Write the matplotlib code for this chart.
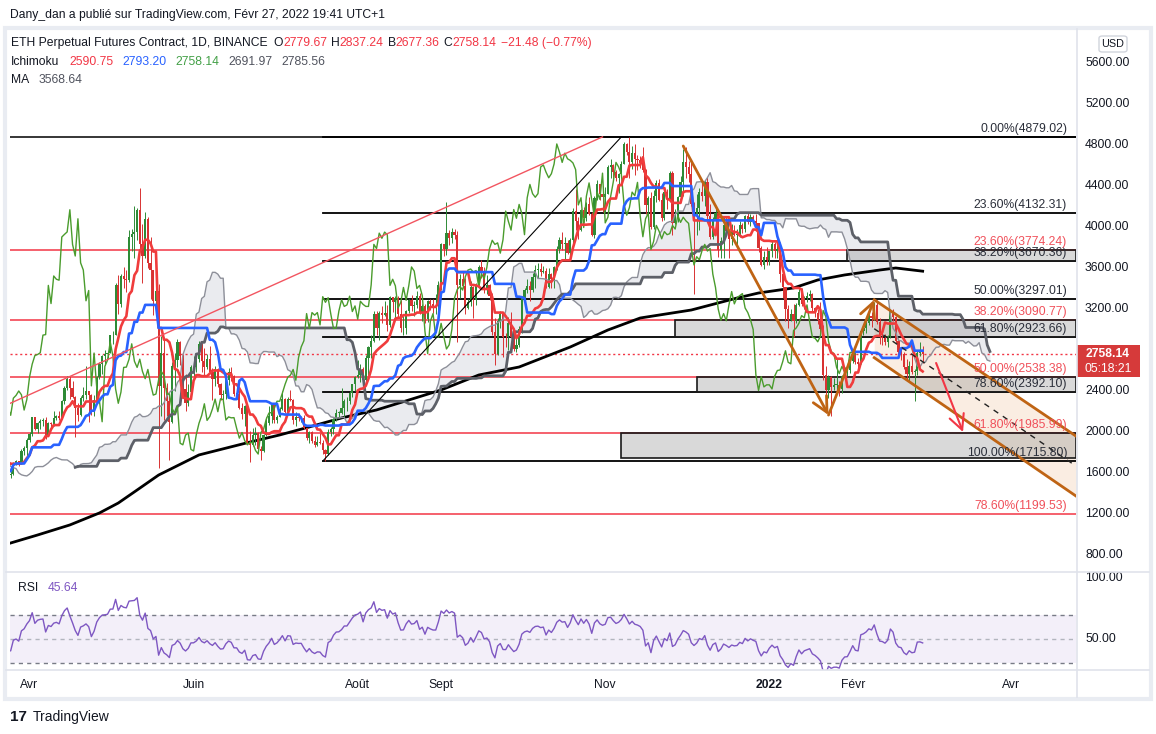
import numpy as np
import pandas as pd
import matplotlib
matplotlib.use("Agg")
import matplotlib.pyplot as plt
from matplotlib.patches import Rectangle, FancyBboxPatch
from matplotlib.lines import Line2D

plt.rcParams['font.family'] = ['Liberation Sans', 'DejaVu Sans']

# ---- daily candles ETH perp (Binance) ----
first_day = "2021-02-01"
first_open = 1314.0
closes = [
    1369,1512,1665,1593,1720,1677,1613,1750,1768,1744,1784,1843,1813,1800,1779,1781,1849,1939,1960,1919,1935,1780,1570,1626,1475,1446,1459,1417,
    1564,1492,1575,1541,1533,1655,1723,1834,1868,1795,1825,1772,1924,1854,1792,1806,1823,1780,1810,1806,1784,1681,1669,1583,1587,1700,1714,1689,1817,1846,1919,
    1977,2142,2027,2092,2111,2117,1970,2087,2074,2137,2153,2137,2300,2432,2515,2427,2342,2237,2163,2330,2357,2400,2363,2214,2316,2534,2662,2746,2756,2773,
    2945,2950,3430,3253,3522,3490,3481,3902,3928,3952,4168,3830,3717,4080,3650,3580,3280,3380,2450,2770,2430,2300,2100,2640,2700,2880,2740,2420,2280,2390,2630,
    2633,2710,2860,2690,2630,2710,2590,2520,2610,2470,2360,2370,2510,2590,2550,2370,2370,2230,2180,2250,1890,1875,1970,1990,1830,1815,1975,2085,2160,2275,
    2113,2150,2225,2321,2198,2324,2316,2117,2147,2138,2140,2035,1940,1995,1915,1875,1900,1895,1820,1785,1995,2025,2125,2185,2190,2230,2300,2300,2380,2465,2535,
    2555,2610,2505,2725,2830,2890,3155,3010,3165,3140,3165,3045,3320,3265,3310,3150,3010,3015,3180,3290,3225,3240,3325,3175,3230,3100,3275,3245,3225,3225,3435,
    3830,3790,3940,3890,3950,3925,3430,3490,3425,3210,3265,3410,3285,3430,3610,3570,3400,3430,3330,2980,2765,3080,3155,2930,2925,3060,2930,2810,2850,3000,
    3310,3390,3420,3385,3515,3580,3590,3560,3575,3415,3545,3495,3605,3790,3870,3830,3845,3745,3875,4155,4055,3970,4170,4085,4220,4130,3925,4285,4415,4325,4290,
    4325,4585,4605,4535,4480,4520,4615,4810,4730,4630,4720,4665,4650,4625,4560,4215,4285,3995,4300,4430,4265,4090,4340,4270,4525,4040,4095,4295,4440,4630,
    4585,4515,4220,4115,4190,4340,4305,4435,4110,3905,4080,4135,3780,3860,4015,3960,3885,3955,3925,3935,4015,3980,4110,4045,4095,4060,4035,3795,3630,3710,3680,
    3770,3830,3765,3790,3540,3410,3200,3090,3155,3085,3240,3370,3250,3310,3330,3350,3210,3165,3095,3000,2560,2405,2540,2440,2460,2460,2420,2545,2600,2605,2688,
    2792,2680,2665,2990,3015,3060,3135,3115,3240,3075,2925,2915,2880,2935,3185,3125,2885,2785,2765,2630,2570,2640,2585,2595,2775,2779.67,2758.14,
]
highs = [
    1380,1540,1675,1695,1738,1755,1700,1780,1810,1830,1800,1870,1845,1830,1810,1825,1865,1950,1975,2040,1990,1950,1780,1710,1680,1535,1530,1470,
    1570,1575,1650,1620,1545,1665,1735,1840,1880,1875,1840,1835,1945,1930,1880,1820,1830,1830,1820,1830,1810,1810,1720,1730,1625,1710,1730,1720,1835,1865,1940,
    2000,2150,2145,2100,2130,2135,2145,2100,2100,2200,2170,2200,2315,2450,2545,2550,2500,2350,2280,2350,2435,2645,2400,2370,2360,2550,2680,2755,2800,2790,
    2950,2985,3450,3530,3540,3610,3580,3970,3980,4200,4190,4380,4030,4150,4100,3900,3580,3560,3440,2940,2930,2480,2380,2680,2770,2910,2890,2760,2570,2465,2650,
    2740,2750,2890,2870,2820,2760,2840,2620,2640,2620,2480,2410,2520,2620,2630,2560,2440,2410,2280,2260,2250,2010,2040,2050,2000,1860,1985,2150,2250,2285,
    2285,2165,2240,2400,2330,2345,2410,2320,2195,2190,2160,2170,2040,2010,2010,1960,1960,1990,1920,1835,2030,2045,2135,2220,2200,2430,2320,2345,2400,2470,2550,
    2700,2665,2630,2750,2840,2950,3180,3185,3180,3230,3275,3240,3330,3320,3330,3330,3290,3130,3190,3300,3340,3280,3380,3360,3250,3250,3290,3300,3300,3350,3470,
    3840,3830,4240,3970,3990,3980,3960,3540,3560,3500,3300,3470,3420,3450,3630,3680,3610,3530,3440,3360,3110,3110,3180,3160,2970,3120,3170,2960,2920,3030,
    3330,3400,3490,3470,3550,3630,3650,3650,3620,3600,3600,3550,3620,3810,3900,3950,3900,3870,3890,4190,4370,4100,4180,4195,4240,4290,4150,4300,4460,4420,4400,
    4390,4600,4665,4610,4560,4530,4640,4830,4820,4879,4790,4810,4700,4690,4780,4570,4300,4345,4360,4460,4470,4330,4380,4370,4550,4550,4180,4300,4500,4760,
    4778,4640,4650,4240,4320,4385,4450,4460,4490,4225,4095,4200,4135,3905,4100,4095,3950,4030,4020,3980,4060,4040,4120,4140,4130,4120,4130,4040,3815,3770,3800,
    3770,3860,3850,3880,3850,3540,3411.8,3240,3200,3250,3260,3395,3405,3325,3365,3385,3355,3220,3200,3270,3040,2640,2560,2550,2530,2720,2500,2560,2630,2650,2715,
    2810,2800,2720,3000,3050,3080,3190,3170,3270,3285.9,3115,2990,2960,2950,3200,3195,3135,2920,2810,2780,2710,2690,2750,2610,2790,2881,2837.24,
]
lows = [
    1270,1360,1500,1540,1590,1640,1520,1580,1700,1690,1720,1760,1770,1770,1680,1730,1760,1840,1895,1880,1900,1550,1375,1510,1465,1400,1430,1290,
    1410,1460,1480,1500,1440,1520,1630,1700,1810,1760,1755,1730,1750,1850,1730,1750,1755,1760,1760,1800,1740,1670,1650,1580,1550,1585,1680,1670,1685,1780,1770,
    1900,1960,2015,1990,2030,2060,1935,1965,2050,2060,2115,2115,2130,2275,2410,2320,2330,1950,2110,2160,2300,2320,2100,2170,2160,2300,2520,2570,2650,2710,
    2770,2860,2945,3150,3220,3400,3370,3465,3770,3700,3870,3790,3450,3700,3600,3300,3140,3230,1650,2160,2115,2160,1730,2090,2400,2630,2650,2340,2200,2250,2320,
    2520,2590,2680,2590,2550,2610,2580,2310,2450,2440,2310,2290,2320,2460,2500,2350,2320,2220,2130,2060,1880,1710,1860,1875,1810,1730,1800,1960,2070,2090,
    2090,2090,2145,2210,2185,2190,2300,2080,2055,2110,2100,2030,1925,1890,1890,1855,1860,1880,1790,1715.8,1780,1960,1985,2110,2140,2180,2150,2200,2270,2340,2400,
    2530,2490,2450,2500,2560,2720,2880,2950,2900,3060,3130,2990,3020,3170,3100,3120,2980,2950,2960,3160,3180,3130,3210,3150,3080,3060,3070,3190,3160,3150,3150,
    3390,3720,3730,3820,3840,3880,2880,3310,3400,3150,3200,3230,3110,3240,3410,3500,3360,3350,3285,2950,2650,2750,3010,2730,2830,2800,2920,2790,2780,2830,
    2970,3270,3360,3280,3370,3400,3500,3520,3550,3400,3400,3400,3400,3580,3750,3780,3675,3740,3680,3840,3970,3880,3960,4050,4060,4120,3910,3890,4260,4260,4150,
    4150,4320,4475,4450,4450,4330,4500,4610,4700,4480,4570,4510,4560,4580,4540,4130,4080,3980,3980,4240,4250,4060,4065,4180,4250,3920,4030,4050,4290,4300,
    4480,4440,4200,3350,3920,3970,4250,4205,4080,3880,3880,4045,3710,3700,3700,3950,3700,3820,3910,3810,3900,3940,3950,4030,4010,4040,3985,3760,3620,3590,3630,
    3630,3710,3700,3700,3460,3310,3080,3010,3080,2930,3060,3230,3230,3200,3270,3280,3180,3120,3050,2980,2510,2310,2330,2159.3,2410,2380,2350,2380,2530,2550,2580,
    2670,2660,2590,2660,2950,2970,3040,3020,3090,3050,2860,2850,2850,2830,2920,3080,2870,2730,2700,2610,2520,2500,2570,2300.5,2560,2740,2677.36,
]

# MA 200
ma_dates = ["2021-03-25", "2021-04-04", "2021-04-16", "2021-04-27", "2021-05-04", "2021-05-11",
            "2021-05-19", "2021-06-03", "2021-06-22", "2021-07-03", "2021-07-14", "2021-07-26",
            "2021-08-08", "2021-08-20", "2021-09-01", "2021-09-15", "2021-09-30", "2021-10-19",
            "2021-11-02", "2021-11-14", "2021-12-03", "2021-12-20", "2021-12-28", "2022-01-10",
            "2022-01-19", "2022-01-29", "2022-02-11", "2022-02-17", "2022-02-27"]
ma_vals = [917, 995, 1093, 1210, 1307, 1434, 1580, 1776, 1902, 1971, 2049, 2137, 2215, 2312,
           2410, 2556, 2634, 2829, 2995, 3112, 3190, 3307, 3356, 3405, 3483, 3532, 3580, 3600, 3568.64]

# fibonacci retracements
fib_black_pcts = ["0.00%", "23.60%", "38.20%", "50.00%", "61.80%", "78.60%", "100.00%"]
fib_black_prices = [4879.02, 4132.31, 3670.36, 3297.01, 2923.66, 2392.10, 1715.80]
fib_black_start = "2021-07-19"
fib_red_pcts = ["23.60%", "38.20%", "50.00%", "61.80%", "78.60%"]
fib_red_prices = [3774.24, 3090.77, 2538.38, 1985.99, 1199.53]

# grey zones
zone_starts = ["2022-01-30", "2021-11-27", "2021-12-05", "2021-11-07"]
zone_lows = [3670.36, 2923.66, 2392.10, 1745]
zone_highs = [3774.24, 3090.77, 2538.38, 1985.99]

# drawings
red_trend = [("2021-03-24", 2270), ("2021-10-31", 4879.02)]
black_trend = [("2021-07-19", 1715.80), ("2021-11-07", 4879.02)]
arrow_down = [("2021-11-30", 4790), ("2022-01-23", 2165)]
arrow_up = [("2022-01-23", 2165), ("2022-02-09", 3290)]
chan_upper = [("2022-02-09", 3290), ("2022-04-25", 1960)]
chan_lower = [("2022-02-09", 2725), ("2022-04-25", 1375)]
red_arrow = [("2022-03-04", 2673), ("2022-03-14", 2000)]

month_labels = ["Avr", "Juin", "Août", "Sept", "Nov", "2022", "Févr", "Avr"]
month_dates = ["2021-04-01", "2021-06-01", "2021-08-01", "2021-09-01", "2021-11-01",
               "2022-01-01", "2022-02-01", "2022-04-01"]
# 2800 sits under the last-price tag
price_ticks = [800, 1200, 1600, 2000, 2400, 3200, 3600, 4000, 4400, 4800, 5200, 5600]
last_price = 2758.14

TXT = '#131722'
GREEN = '#2e8b36'
RED = '#d83232'

base = pd.Timestamp("2021-04-01")
def day(d):
    return (pd.Timestamp(d) - base).days

dates = pd.date_range(first_day, periods=len(closes), freq="D")
x = np.array((dates - base).days, dtype=float)
c = np.array(closes, float)
h = np.array(highs, float)
l = np.array(lows, float)
o = np.r_[first_open, c[:-1]]

def donchian(n):
    hh = pd.Series(h).rolling(n).max()
    ll = pd.Series(l).rolling(n).min()
    return ((hh + ll) / 2).values

tenkan = donchian(9)
kijun = donchian(26)
span_a = (tenkan + kijun) / 2
span_b = donchian(52)
shift = 25

delta = np.diff(c, prepend=c[0])
gain = pd.Series(np.where(delta > 0, delta, 0.0)).ewm(alpha=1/14, adjust=False).mean()
loss = pd.Series(np.where(delta < 0, -delta, 0.0)).ewm(alpha=1/14, adjust=False).mean()
rsi = (100 - 100 / (1 + gain / loss)).values

W, H = 1156, 734
fig = plt.figure(figsize=(W / 100, H / 100), dpi=100)
fig.patch.set_facecolor('white')
def fx(px): return px / W
def fy(py): return 1 - py / H

ax = fig.add_axes([fx(10), fy(572), fx(1076) - fx(10), fy(31) - fy(572)])
rax = fig.add_axes([fx(10), fy(670), fx(1076) - fx(10), fy(572) - fy(670)])
for a in (ax, rax):
    a.axis('off')
    a.set_xlim(-7.25, 389)
ax.set_ylim(634, 5912)
rax.set_ylim(24.6, 104.9)

# cloud
xl = x + shift
ok = ~np.isnan(span_b)
ax.fill_between(xl[ok], span_a[ok], span_b[ok], color='#d1d4dc', alpha=0.45, lw=0, zorder=1)
ax.plot(xl, span_a, color='#8d8f99', lw=1, zorder=5)
ax.plot(xl, span_b, color='#5d6068', lw=2, zorder=5)

# channel fill
cu = [(day(d), p) for d, p in chan_upper]
cl = [(day(d), p) for d, p in chan_lower]
cx = np.array([cu[0][0], cu[1][0]], float)
ax.fill_between(cx, [cl[0][1], cl[1][1]], [cu[0][1], cu[1][1]], color='#f6dcc6', alpha=0.5, lw=0, zorder=1.2)

# fib lines
xr = 389
ax.plot([-7.25, xr], [fib_black_prices[0]] * 2, color='black', lw=1.1, zorder=2)
for pct, p in zip(fib_black_pcts, fib_black_prices):
    ax.plot([day(fib_black_start), xr], [p, p], color='black', lw=1.3, zorder=2)
    ax.text(385.7, p + 22, f"{pct}({p:.2f})", ha='right', va='bottom', color='#2a2e39',
            fontsize=8.7, zorder=7)
for pct, p in zip(fib_red_pcts, fib_red_prices):
    ax.plot([-7.25, xr], [p, p], color='#f23645', lw=1.1, zorder=2)
    ax.text(385.7, p + 22, f"{pct}({p:.2f})", ha='right', va='bottom', color='#f0505a',
            fontsize=8.7, zorder=7)

# zones
for s, lo, hi in zip(zone_starts, zone_lows, zone_highs):
    ax.add_patch(Rectangle((day(s), lo), xr - day(s), hi - lo, facecolor=(0.55, 0.55, 0.55, 0.33),
                           edgecolor='#1a1a1a', lw=1.2, zorder=2.5))

# last price dotted
ax.plot([-7.25, xr], [last_price] * 2, color='#f23645', lw=1, ls=(0, (1.5, 2)), zorder=3)

# MA
ax.plot([day(d) for d in ma_dates], ma_vals, color='black', lw=2, zorder=3)

# candles
up = c >= o
bl = np.minimum(o, c)
bh = np.maximum(o, c)
cols = np.where(up, GREEN, RED)
ax.vlines(x, np.minimum(l, bl), np.maximum(h, bh), colors=cols, lw=0.7, zorder=4)
ax.bar(x, np.maximum(bh - bl, 6), bottom=bl, width=0.8, color=cols, lw=0, zorder=4)

# ichimoku lines
ax.plot(x - shift, c, color='#4a9c2d', lw=1, zorder=5)
ax.plot(x, tenkan, color='#f03c3c', lw=1.9, zorder=5)
ax.plot(x, kijun, color='#2962ff', lw=1.9, zorder=5)

# drawings
def seg(pts, **kw):
    ax.plot([day(pts[0][0]), day(pts[1][0])], [pts[0][1], pts[1][1]], **kw)
seg(red_trend, color='#f25560', lw=1, zorder=6)
seg(black_trend, color='black', lw=0.8, zorder=6)
seg(chan_upper, color='#bf6414', lw=2, zorder=6)
seg(chan_lower, color='#bf6414', lw=2, zorder=6)
ax.plot(cx, [(cu[0][1] + cl[0][1]) / 2, (cu[1][1] + cl[1][1]) / 2], color='#222', lw=1,
        ls=(0, (4, 4)), zorder=6)
def arrow(pts, color, lw):
    ax.annotate('', xy=(day(pts[1][0]), pts[1][1]), xytext=(day(pts[0][0]), pts[0][1]),
                arrowprops=dict(arrowstyle='->,head_length=0.9,head_width=0.45', color=color,
                                lw=lw, shrinkA=0, shrinkB=0, mutation_scale=12), zorder=6)
arrow(arrow_down, '#bf6414', 2)
arrow(arrow_up, '#bf6414', 2)
arrow(red_arrow, '#f23645', 1.5)

# price axis labels
for p in price_ticks:
    ax.text(1 + 9 / 1066, p, f"{p:.2f}", transform=ax.get_yaxis_transform(), ha='left',
            va='center', fontsize=8.7, color=TXT, clip_on=False)

# RSI pane
rax.fill_between([-7.25, 389], 30, 70, color='#7e57c2', alpha=0.09, lw=0)
rax.plot([-7.25, 389], [70, 70], color='#787b86', lw=1, ls=(0, (3, 3)))
rax.plot([-7.25, 389], [30, 30], color='#787b86', lw=1, ls=(0, (3, 3)))
rax.plot([-7.25, 389], [50, 50], color='#b2b5be', lw=1, ls=(0, (3, 3)))
rax.plot(x, rsi, color='#7e57c2', lw=1)
for v in (100, 50):
    rax.text(1 + 9 / 1066, v, f"{v:.2f}", transform=rax.get_yaxis_transform(), ha='left',
             va='center', fontsize=8.7, color=TXT, clip_on=False)
for lab, d in zip(month_labels, month_dates):
    rax.text(day(d), -0.153, lab, transform=rax.get_xaxis_transform(), ha='center', va='center',
             fontsize=8.7, color=TXT, fontweight='bold' if lab == '2022' else 'normal', clip_on=False)

# frame and separators
fig.add_artist(Rectangle((fx(5), fy(699)), fx(1146), (699 - 28) / H, transform=fig.transFigure,
                         fill=False, edgecolor='#e9ecf2', lw=3))
for yy in (572, 670):
    fig.add_artist(Line2D([fx(6), fx(1149)], [fy(yy), fy(yy)], color='#e0e3eb', lw=1.2))
fig.add_artist(Line2D([fx(1076.5), fx(1076.5)], [fy(29), fy(697)], color='#e0e3eb', lw=1.2))

# last price tag
fig.add_artist(Rectangle((fx(1077), fy(377)), fx(63), 32 / H, transform=fig.transFigure,
                         facecolor='#d63a3a', edgecolor='none'))
fig.text(fx(1108), fy(354), "2758.14", color='white', fontsize=8.7, fontweight='bold',
         ha='center', va='center')
fig.text(fx(1108), fy(369), "05:18:21", color='white', fontsize=8.7, ha='center', va='center')

# USD button
fig.add_artist(FancyBboxPatch((fx(1099), fy(52)), fx(28), 16 / H, transform=fig.transFigure,
                              boxstyle='round,pad=0,rounding_size=0.003', facecolor='white',
                              edgecolor='#d1d4dc', lw=1))
fig.text(fx(1113), fy(44), "USD", fontsize=7.8, color=TXT, ha='center', va='center')

# header and legend
renderer = fig.canvas.get_renderer()
def seq(x0, y0, pieces, size=8.7):
    xp = x0
    for s, col, gap in pieces:
        t = fig.text(fx(xp), fy(y0), s, color=col, fontsize=size, ha='left', va='center')
        xp += t.get_window_extent(renderer).width + gap

fig.text(fx(10), fy(15), "Dany_dan a publié sur TradingView.com, Févr 27, 2022 19:41 UTC+1",
         fontsize=8.7, color=TXT, ha='left', va='center')
R = '#f23645'
seq(11, 43, [("ETH Perpetual Futures Contract, 1D, BINANCE", TXT, 6),
             ("O", TXT, 0), ("2779.67", R, 4), ("H", TXT, 0), ("2837.24", R, 4),
             ("B", TXT, 0), ("2677.36", R, 4), ("C", TXT, 0), ("2758.14", R, 5),
             ("\u221221.48 (\u22120.77%)", R, 0)])
seq(11, 62, [("Ichimoku", TXT, 10), ("2590.75", R, 9), ("2793.20", '#2962ff', 9),
             ("2758.14", '#43a047', 9), ("2691.97", '#50535e', 9), ("2785.56", '#50535e', 0)])
seq(11, 80, [("MA", TXT, 9), ("3568.64", '#50535e', 0)])
seq(18, 588, [("RSI", TXT, 9), ("45.64", '#7e57c2', 0)])

fig.text(fx(10), fy(717), "17", fontsize=11, fontweight='heavy', color=TXT, ha='left', va='center')
fig.text(fx(33), fy(717), "TradingView", fontsize=10, color=TXT, ha='left', va='center')

fig.savefig("out.png", dpi=100)
